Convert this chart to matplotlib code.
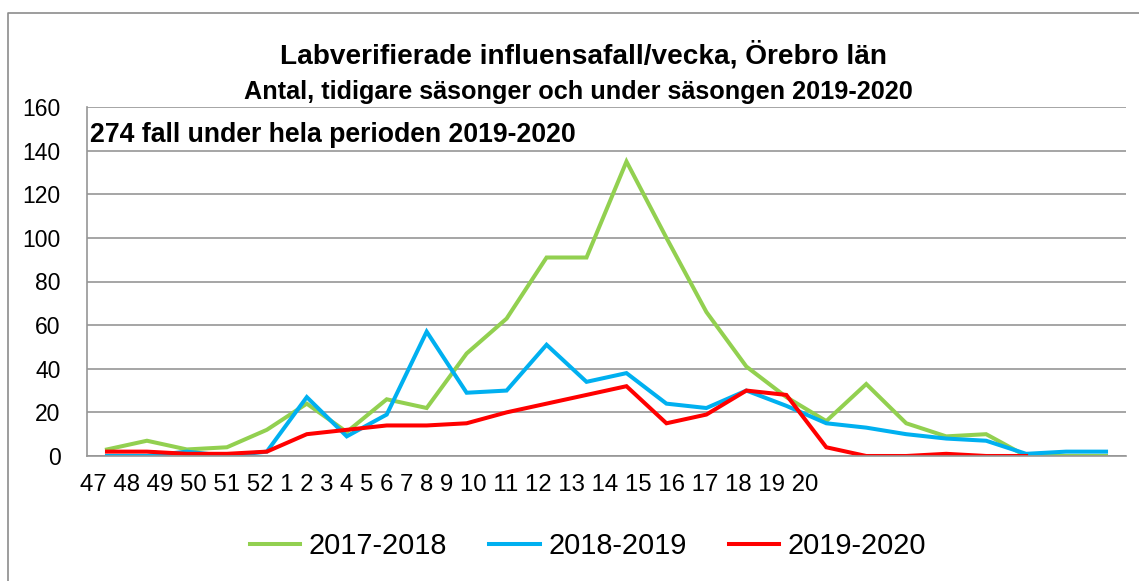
import matplotlib
matplotlib.use("Agg")
import matplotlib.pyplot as plt
import numpy as np
from matplotlib.lines import Line2D

plt.rcParams['font.family'] = ['Liberation Sans', 'DejaVu Sans']

week_labels = ['47', '48', '49', '50', '51', '52', '1', '2', '3', '4', '5', '6', '7', '8', '9',
               '10', '11', '12', '13', '14', '15', '16', '17', '18', '19', '20']
s2017_2018 = [3, 7, 3, 4, 12, 24, 11, 26, 22, 47, 63, 91, 91, 135, 100, 66, 41, 27, 16, 33,
              15, 9, 10, 0, 0, 0]
s2018_2019 = [0, 0, 2, 0, 2, 27, 9, 19, 57, 29, 30, 51, 34, 38, 24, 22, 30, 23, 15, 13,
              10, 8, 7, 1, 2, 2]
s2019_2020 = [2, 2, 1, 1, 2, 10, 12, 14, 14, 15, 20, 24, 28, 32, 15, 19, 30, 28, 4, 0,
              0, 1, 0, 0, np.nan, np.nan]
series_names = ['2017-2018', '2018-2019', '2019-2020']
colors = ['#92D050', '#00B0F0', '#FF0000']

W, H = 1139, 581
fig = plt.figure(figsize=(W / 100, H / 100), dpi=100)
ax = fig.add_axes([87 / W, 1 - 456 / H, (1126 - 87) / W, (456 - 107) / H])

x = np.arange(len(week_labels))
for vals, c, name in zip([s2017_2018, s2018_2019, s2019_2020], colors, series_names):
    ax.plot(x, vals, color=c, lw=2.9, label=name, solid_joinstyle='miter')

ax.set_xlim(-0.5, len(week_labels) - 0.5)
ax.set_ylim(0, 160)
ax.set_yticks(np.arange(0, 161, 20))
ax.tick_params(axis='y', length=0, pad=19, labelsize=16.5)
ax.set_xticks([])
ax.grid(axis='y', color='#969696', lw=1.2)
ax.set_axisbelow(True)
for s in ['top', 'right']:
    ax.spines[s].set_visible(False)
ax.spines['left'].set_color('#969696')
ax.spines['bottom'].set_color('#969696')
ax.spines['left'].set_linewidth(1.2)
ax.spines['bottom'].set_linewidth(1.2)

# x labels as a packed row (as in reference)
fig.text(80 / W, 1 - 485 / H, ' '.join(week_labels), fontsize=17.3, ha='left', va='center')

fig.text(583 / W, 1 - 55 / H, 'Labverifierade influensafall/vecka, Örebro län',
         fontsize=20.2, fontweight='bold', ha='center', va='center')
fig.text(578 / W, 1 - 92 / H, 'Antal, tidigare säsonger och under säsongen 2019-2020',
         fontsize=18.2, fontweight='bold', ha='center', va='center')
fig.text(90 / W, 1 - 135 / H, '274 fall under hela perioden 2019-2020',
         fontsize=19.2, fontweight='bold', ha='left', va='center')

handles = [Line2D([], [], color=c, lw=2.9) for c in colors]
fig.legend(handles, series_names, loc='center', bbox_to_anchor=(588 / W, 1 - 546 / H),
           ncol=3, frameon=False, fontsize=20.8, handlelength=1.75, columnspacing=1.45,
           handletextpad=0.3)

# outer chart border
fig.add_artist(Line2D([8 / W, 8 / W, 1.0], [0, 1 - 13 / H, 1 - 13 / H],
                      transform=fig.transFigure, color='#8c8c8c', lw=1.2))

fig.savefig('out.png', dpi=100)
